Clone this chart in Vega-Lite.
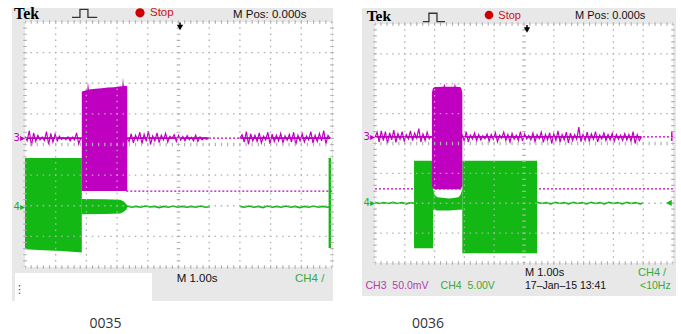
{
"$schema": "https://vega.github.io/schema/vega-lite/v6.json",
"width": 681, "height": 334,
"autosize": {"type": "fit", "contains": "padding"},
"padding": 0,
"background": "white",
"config": {"view": {"stroke": null}},
"resolve": {"scale": {"x": "independent", "y": "independent"}},
"layer": [
{
"encoding": {
 "x": {"field": "x", "type": "quantitative", "scale": {"domain": [-0.8143, 21.3681], "nice": false, "zero": false}, "axis": null},
 "y": {"field": "y", "type": "quantitative", "scale": {"domain": [-6.1878, 4.7184], "nice": false, "zero": false}, "axis": null, "stack": null}
},
"layer": [
 {"data": {"values": [{"x": -0.4235, "x2": 10.033, "y": 4.457, "y2": -5.11}]}, "mark": {"type": "rect", "color": "#e8e8e8"}, "encoding": {"x2": {"field": "x2"}, "y2": {"field": "y2"}}},
 {"data": {"values": [{"x": 0, "x2": 10, "y": 4, "y2": -4}, {"x": -0.326, "x2": 4.137, "y": -4.196, "y2": -5.11}]}, "mark": {"type": "rect", "color": "#ffffff"}, "encoding": {"x2": {"field": "x2"}, "y2": {"field": "y2"}}},
 {"data": {"values": [{"x": 0, "x2": 10, "y": 0.21}, {"x": 3.3, "x2": 10, "y": -1.52}]}, "mark": {"type": "rule", "color": "#c000c0", "strokeWidth": 1.2, "strokeDash": [2, 2]}, "encoding": {"x2": {"field": "x2"}}},
 {"data": {"values": [
   {"s": "a", "x": 0, "y": -0.44, "y2": -3.42}, {"s": "a", "x": 0.6, "y": -0.44, "y2": -3.45}, {"s": "a", "x": 1.2, "y": -0.44, "y2": -3.48}, {"s": "a", "x": 1.85, "y": -0.44, "y2": -3.53},
   {"s": "b", "x": 1.85, "y": -1.78, "y2": -2.28}, {"s": "b", "x": 2.6, "y": -1.79, "y2": -2.27}, {"s": "b", "x": 3.1, "y": -1.8, "y2": -2.25}, {"s": "b", "x": 3.22, "y": -1.86, "y2": -2.2}, {"s": "b", "x": 3.3, "y": -1.95, "y2": -2.12}, {"s": "b", "x": 3.33, "y": -2.0, "y2": -2.06}
  ]}, "mark": {"type": "area", "color": "#14b814", "orient": "vertical", "opacity": 1}, "encoding": {"y2": {"field": "y2"}, "detail": {"field": "s"}}},
 {"data": {"values": [{"x": 9.93, "y": -0.44, "y2": -3.38}]}, "mark": {"type": "rule", "color": "#14b814", "strokeWidth": 2.5}, "encoding": {"y2": {"field": "y2"}}},
 {"data": {"values": [
   {"s": "m", "x": 1.85, "y": 1.72, "y2": -1.52}, {"s": "m", "x": 1.9, "y": 1.75, "y2": -1.52}, {"s": "m", "x": 2.03, "y": 1.78, "y2": -1.52}, {"s": "m", "x": 2.05, "y": 2.05, "y2": -1.52}, {"s": "m", "x": 2.08, "y": 1.8, "y2": -1.52}, {"s": "m", "x": 2.3, "y": 1.82, "y2": -1.52}, {"s": "m", "x": 2.5, "y": 1.84, "y2": -1.52}, {"s": "m", "x": 2.7, "y": 1.86, "y2": -1.52}, {"s": "m", "x": 2.9, "y": 1.87, "y2": -1.52}, {"s": "m", "x": 3.05, "y": 1.89, "y2": -1.52}, {"s": "m", "x": 3.17, "y": 1.9, "y2": -1.52}, {"s": "m", "x": 3.19, "y": 2.18, "y2": -1.52}, {"s": "m", "x": 3.22, "y": 1.91, "y2": -1.52}, {"s": "m", "x": 3.32, "y": 1.91, "y2": -1.52}, {"s": "m", "x": 3.33, "y": 1.85, "y2": -1.52}
  ]}, "mark": {"type": "area", "color": "#c000c0", "orient": "vertical", "opacity": 1}, "encoding": {"y2": {"field": "y2"}, "detail": {"field": "s"}}},
 {"data": {"values": [{"x": 0, "x2": 1.84, "y": 0.21}, {"x": 3.32, "x2": 6.0, "y": 0.21}, {"x": 7.0, "x2": 9.94, "y": 0.21}]}, "mark": {"type": "rule", "color": "#c000c0", "strokeWidth": 1.8}, "encoding": {"x2": {"field": "x2"}}},
 {"data": {"values": [
   {"s":"a","x":0,"y":0.26},{"s":"a","x":0.07,"y":0.12},{"s":"a","x":0.14,"y":0.45},{"s":"a","x":0.21,"y":-0.05},{"s":"a","x":0.28,"y":0.38},{"s":"a","x":0.35,"y":0.1},{"s":"a","x":0.42,"y":0.3},{"s":"a","x":0.49,"y":0.15},{"s":"a","x":0.56,"y":0.24},{"s":"a","x":0.63,"y":0.13},{"s":"a","x":0.7,"y":0.42},{"s":"a","x":0.77,"y":0.0},{"s":"a","x":0.84,"y":0.36},{"s":"a","x":0.91,"y":0.08},{"s":"a","x":0.98,"y":0.34},{"s":"a","x":1.05,"y":0.12},{"s":"a","x":1.12,"y":0.27},{"s":"a","x":1.19,"y":0.17},{"s":"a","x":1.26,"y":0.23},{"s":"a","x":1.33,"y":0.16},{"s":"a","x":1.4,"y":0.25},{"s":"a","x":1.47,"y":0.12},{"s":"a","x":1.54,"y":0.24},{"s":"a","x":1.61,"y":0.15},{"s":"a","x":1.68,"y":0.38},{"s":"a","x":1.75,"y":0.02},{"s":"a","x":1.82,"y":0.22},
   {"s":"b","x":3.32,"y":0.22},{"s":"b","x":3.39,"y":0.1},{"s":"b","x":3.46,"y":0.35},{"s":"b","x":3.53,"y":0.05},{"s":"b","x":3.6,"y":0.3},{"s":"b","x":3.67,"y":0.14},{"s":"b","x":3.74,"y":0.4},{"s":"b","x":3.81,"y":0.02},{"s":"b","x":3.88,"y":0.33},{"s":"b","x":3.95,"y":0.1},{"s":"b","x":4.02,"y":0.44},{"s":"b","x":4.09,"y":0.0},{"s":"b","x":4.16,"y":0.28},{"s":"b","x":4.23,"y":0.12},{"s":"b","x":4.3,"y":0.38},{"s":"b","x":4.37,"y":0.06},{"s":"b","x":4.44,"y":0.3},{"s":"b","x":4.51,"y":0.15},{"s":"b","x":4.58,"y":0.36},{"s":"b","x":4.65,"y":0.08},{"s":"b","x":4.72,"y":0.27},{"s":"b","x":4.79,"y":0.2},{"s":"b","x":4.86,"y":0.32},{"s":"b","x":4.93,"y":0.1},{"s":"b","x":5.0,"y":0.3},{"s":"b","x":5.07,"y":0.14},{"s":"b","x":5.14,"y":0.26},{"s":"b","x":5.21,"y":0.12},{"s":"b","x":5.28,"y":0.29},{"s":"b","x":5.35,"y":0.16},{"s":"b","x":5.42,"y":0.24},{"s":"b","x":5.49,"y":0.12},{"s":"b","x":5.56,"y":0.3},{"s":"b","x":5.63,"y":0.1},{"s":"b","x":5.7,"y":0.25},{"s":"b","x":5.77,"y":0.15},{"s":"b","x":5.84,"y":0.22},{"s":"b","x":5.91,"y":0.17},{"s":"b","x":5.98,"y":0.2},
   {"s":"c","x":7.0,"y":0.2},{"s":"c","x":7.07,"y":0.32},{"s":"c","x":7.14,"y":0.08},{"s":"c","x":7.21,"y":0.42},{"s":"c","x":7.28,"y":0.0},{"s":"c","x":7.35,"y":0.35},{"s":"c","x":7.42,"y":0.12},{"s":"c","x":7.49,"y":0.3},{"s":"c","x":7.56,"y":0.1},{"s":"c","x":7.63,"y":0.38},{"s":"c","x":7.7,"y":0.05},{"s":"c","x":7.77,"y":0.27},{"s":"c","x":7.84,"y":0.15},{"s":"c","x":7.91,"y":0.4},{"s":"c","x":7.98,"y":0.02},{"s":"c","x":8.05,"y":0.34},{"s":"c","x":8.12,"y":0.1},{"s":"c","x":8.19,"y":0.3},{"s":"c","x":8.26,"y":0.12},{"s":"c","x":8.33,"y":0.36},{"s":"c","x":8.4,"y":0.06},{"s":"c","x":8.47,"y":0.28},{"s":"c","x":8.54,"y":0.14},{"s":"c","x":8.61,"y":0.33},{"s":"c","x":8.68,"y":0.08},{"s":"c","x":8.75,"y":0.4},{"s":"c","x":8.82,"y":0.0},{"s":"c","x":8.89,"y":0.3},{"s":"c","x":8.96,"y":0.12},{"s":"c","x":9.03,"y":0.35},{"s":"c","x":9.1,"y":0.08},{"s":"c","x":9.17,"y":0.28},{"s":"c","x":9.24,"y":0.15},{"s":"c","x":9.31,"y":0.42},{"s":"c","x":9.38,"y":0.05},{"s":"c","x":9.45,"y":0.3},{"s":"c","x":9.52,"y":0.1},{"s":"c","x":9.59,"y":0.36},{"s":"c","x":9.66,"y":0.12},{"s":"c","x":9.73,"y":0.45},{"s":"c","x":9.8,"y":0.02},{"s":"c","x":9.87,"y":0.3},{"s":"c","x":9.94,"y":0.2}
  ]}, "mark": {"type": "line", "color": "#c000c0", "strokeWidth": 1.2}, "encoding": {"detail": {"field": "s"}}},
 {"data": {"values": [
   {"s":"b","x":3.32,"y":-2.01},{"s":"b","x":3.47,"y":-2.05},{"s":"b","x":3.62,"y":-2.02},{"s":"b","x":3.77,"y":-2.05},{"s":"b","x":3.92,"y":-2.01},{"s":"b","x":4.07,"y":-2.04},{"s":"b","x":4.22,"y":-2.02},{"s":"b","x":4.37,"y":-2.06},{"s":"b","x":4.52,"y":-2.02},{"s":"b","x":4.67,"y":-2.05},{"s":"b","x":4.82,"y":-2.01},{"s":"b","x":4.97,"y":-2.05},{"s":"b","x":5.12,"y":-2.02},{"s":"b","x":5.27,"y":-2.05},{"s":"b","x":5.42,"y":-2.02},{"s":"b","x":5.57,"y":-2.05},{"s":"b","x":5.72,"y":-2.01},{"s":"b","x":5.87,"y":-2.05},{"s":"b","x":6.02,"y":-2.03},
   {"s":"c","x":7.0,"y":-2.02},{"s":"c","x":7.15,"y":-2.05},{"s":"c","x":7.3,"y":-2.01},{"s":"c","x":7.45,"y":-2.05},{"s":"c","x":7.6,"y":-2.02},{"s":"c","x":7.75,"y":-2.06},{"s":"c","x":7.9,"y":-2.01},{"s":"c","x":8.05,"y":-2.05},{"s":"c","x":8.2,"y":-2.02},{"s":"c","x":8.35,"y":-2.05},{"s":"c","x":8.5,"y":-2.01},{"s":"c","x":8.65,"y":-2.05},{"s":"c","x":8.8,"y":-2.02},{"s":"c","x":8.95,"y":-2.06},{"s":"c","x":9.1,"y":-2.02},{"s":"c","x":9.25,"y":-2.05},{"s":"c","x":9.4,"y":-2.01},{"s":"c","x":9.55,"y":-2.05},{"s":"c","x":9.7,"y":-2.02},{"s":"c","x":9.85,"y":-2.05},{"s":"c","x":9.93,"y":-2.03}
  ]}, "mark": {"type": "line", "color": "#14b814", "strokeWidth": 1.6}, "encoding": {"detail": {"field": "s"}}},
 {"data": {"values": [{"x":1,"y":-4,"y2":4},{"x":2,"y":-4,"y2":4},{"x":3,"y":-4,"y2":4},{"x":4,"y":-4,"y2":4},{"x":6,"y":-4,"y2":4},{"x":7,"y":-4,"y2":4},{"x":8,"y":-4,"y2":4},{"x":9,"y":-4,"y2":4}]}, "mark": {"type": "rule", "color": "#b0b0b0", "strokeWidth": 1.3, "strokeDash": [1.5, 4.625], "strokeDashOffset": 0.75}, "encoding": {"y2": {"field": "y2"}}},
 {"data": {"values": [{"y":-3,"x":0,"x2":10},{"y":-2,"x":0,"x2":10},{"y":-1,"x":0,"x2":10},{"y":1,"x":0,"x2":10},{"y":2,"x":0,"x2":10},{"y":3,"x":0,"x2":10}]}, "mark": {"type": "rule", "color": "#b0b0b0", "strokeWidth": 1.3, "strokeDash": [1.5, 4.64], "strokeDashOffset": 0.75}, "encoding": {"x2": {"field": "x2"}}},
 {"data": {"values": [{"x":0,"y":-4,"y2":4},{"x":5,"y":-4,"y2":4},{"x":10,"y":-4,"y2":4}]}, "mark": {"type": "rule", "color": "#b0b0b0", "strokeWidth": 3.5, "strokeDash": [1.2, 4.925], "strokeDashOffset": 0.6}, "encoding": {"y2": {"field": "y2"}}},
 {"data": {"values": [{"y":-4,"x":0,"x2":10},{"y":0,"x":0,"x2":10},{"y":4,"x":0,"x2":10}]}, "mark": {"type": "rule", "color": "#b0b0b0", "strokeWidth": 3.5, "strokeDash": [1.2, 4.94], "strokeDashOffset": 0.6}, "encoding": {"x2": {"field": "x2"}}},
 {"data": {"values": [{"x": 0, "y": 0.21, "t": "3▸"}]}, "mark": {"type": "text", "color": "#c000c0", "align": "right", "baseline": "middle", "fontSize": 10, "font": "DejaVu Sans"}, "encoding": {"text": {"field": "t"}}},
 {"data": {"values": [{"x": 0, "y": -2.03, "t": "4▸"}]}, "mark": {"type": "text", "color": "#14b814", "align": "right", "baseline": "middle", "fontSize": 10, "font": "DejaVu Sans"}, "encoding": {"text": {"field": "t"}}},
 {"data": {"values": [{"x": -0.36, "y": 4.1, "t": "Tek"}]}, "mark": {"type": "text", "color": "#000000", "align": "left", "baseline": "alphabetic", "fontSize": 16, "fontWeight": "bold", "font": "Liberation Serif"}, "encoding": {"text": {"field": "t"}}},
 {"data": {"values": [{"x": 6.775, "y": 4.13, "t": "M Pos: 0.000s"}, {"x": 4.94, "y": -4.49, "t": "M 1.00s"}]}, "mark": {"type": "text", "color": "#111111", "align": "left", "baseline": "alphabetic", "fontSize": 11.5, "font": "Liberation Sans"}, "encoding": {"text": {"field": "t"}}},
 {"data": {"values": [{"x": 4.072, "y": 4.19, "t": "Stop"}]}, "mark": {"type": "text", "color": "#cc1111", "align": "left", "baseline": "alphabetic", "fontSize": 11.5, "font": "Liberation Sans"}, "encoding": {"text": {"field": "t"}}},
 {"data": {"values": [{"x": 3.746, "y": 4.3}]}, "mark": {"type": "point", "shape": "circle", "filled": true, "size": 85, "color": "#cc0000", "opacity": 1}},
 {"data": {"values": [{"x": 8.795, "y": -4.49, "t": "CH4 /"}]}, "mark": {"type": "text", "color": "#3aa83a", "align": "left", "baseline": "alphabetic", "fontSize": 11.5, "font": "Liberation Sans"}, "encoding": {"text": {"field": "t"}}},
 {"data": {"values": [{"i":0,"x":1.53,"y":4.15},{"i":1,"x":1.79,"y":4.15},{"i":2,"x":1.79,"y":4.41},{"i":3,"x":2.05,"y":4.41},{"i":4,"x":2.05,"y":4.15},{"i":5,"x":2.35,"y":4.15}]}, "mark": {"type": "line", "color": "#333333", "strokeWidth": 1.3}, "encoding": {"order": {"field": "i"}}},
 {"data": {"values": [{"x": 5.05, "y": 3.82}]}, "mark": {"type": "point", "shape": "triangle-down", "filled": true, "size": 40, "color": "#000000", "opacity": 1}},
 {"data": {"values": [{"x": 5.05, "y": 3.985, "y2": 3.84}]}, "mark": {"type": "rule", "color": "#000000", "strokeWidth": 1.5}, "encoding": {"y2": {"field": "y2"}}},
 {"data": {"values": [{"x": -0.36, "y": -4.75, "t": "⋮"}]}, "mark": {"type": "text", "color": "#444444", "align": "left", "baseline": "middle", "fontSize": 11, "font": "DejaVu Sans"}, "encoding": {"text": {"field": "t"}}},
 {"data": {"values": [{"x": 2.622, "y": -5.992, "t": "0035"}]}, "mark": {"type": "text", "color": "#333333", "align": "center", "baseline": "alphabetic", "fontSize": 14, "font": "Open Sans"}, "encoding": {"text": {"field": "t"}}}
]
},
{
"encoding": {
 "x": {"field": "x", "type": "quantitative", "scale": {"domain": [-12.5839, 10.2685], "nice": false, "zero": false}, "axis": null},
 "y": {"field": "y", "type": "quantitative", "scale": {"domain": [-6.3766, 4.8033], "nice": false, "zero": false}, "axis": null, "stack": null}
},
"layer": [
 {"data": {"values": [{"x": -0.436, "x2": 10.101, "y": 4.536, "y2": -5.105}]}, "mark": {"type": "rect", "color": "#e8e8e8"}, "encoding": {"x2": {"field": "x2"}, "y2": {"field": "y2"}}},
 {"data": {"values": [{"x": 0, "x2": 10, "y": 4, "y2": -4}]}, "mark": {"type": "rect", "color": "#ffffff"}, "encoding": {"x2": {"field": "x2"}, "y2": {"field": "y2"}}},
 {"data": {"values": [{"x": 0, "x2": 10, "y": 0.22}, {"x": 0, "x2": 10, "y": -1.52}]}, "mark": {"type": "rule", "color": "#c000c0", "strokeWidth": 1.2, "strokeDash": [2, 2]}, "encoding": {"x2": {"field": "x2"}}},
 {"data": {"values": [
   {"s": "a", "x": 1.31, "y": -0.58, "y2": -3.51}, {"s": "a", "x": 1.95, "y": -0.58, "y2": -3.51},
   {"s": "b", "x": 1.95, "y": -1.5, "y2": -2.23}, {"s": "b", "x": 2.0, "y": -1.72, "y2": -2.23}, {"s": "b", "x": 2.1, "y": -1.8, "y2": -2.24}, {"s": "b", "x": 2.5, "y": -1.84, "y2": -2.24}, {"s": "b", "x": 2.8, "y": -1.8, "y2": -2.22}, {"s": "b", "x": 2.88, "y": -1.7, "y2": -2.22}, {"s": "b", "x": 2.93, "y": -1.5, "y2": -2.22},
   {"s": "c", "x": 2.93, "y": -0.58, "y2": -3.67}, {"s": "c", "x": 4.0, "y": -0.58, "y2": -3.67}, {"s": "c", "x": 5.44, "y": -0.58, "y2": -3.67}
  ]}, "mark": {"type": "area", "color": "#14b814", "orient": "vertical", "opacity": 1}, "encoding": {"y2": {"field": "y2"}, "detail": {"field": "s"}}},
 {"data": {"values": [
   {"s":"m","x":1.91,"y":1.7,"y2":-1.4},{"s":"m","x":1.94,"y":1.84,"y2":-1.5},{"s":"m","x":2.0,"y":1.89,"y2":-1.53},{"s":"m","x":2.3,"y":1.9,"y2":-1.53},{"s":"m","x":2.33,"y":2.0,"y2":-1.53},{"s":"m","x":2.36,"y":1.9,"y2":-1.53},{"s":"m","x":2.66,"y":1.9,"y2":-1.53},{"s":"m","x":2.68,"y":2.02,"y2":-1.53},{"s":"m","x":2.71,"y":1.9,"y2":-1.53},{"s":"m","x":2.86,"y":1.89,"y2":-1.53},{"s":"m","x":2.9,"y":1.84,"y2":-1.5},{"s":"m","x":2.93,"y":1.7,"y2":-1.4}
  ]}, "mark": {"type": "area", "color": "#c000c0", "orient": "vertical", "opacity": 1}, "encoding": {"y2": {"field": "y2"}, "detail": {"field": "s"}}},
 {"data": {"values": [{"x": 0, "x2": 1.91, "y": 0.22}, {"x": 2.92, "x2": 8.94, "y": 0.22}]}, "mark": {"type": "rule", "color": "#c000c0", "strokeWidth": 1.8}, "encoding": {"x2": {"field": "x2"}}},
 {"data": {"values": [
   {"s":"a","x":0,"y":0.2},{"s":"a","x":0.07,"y":0.38},{"s":"a","x":0.14,"y":0.05},{"s":"a","x":0.21,"y":0.42},{"s":"a","x":0.28,"y":0.1},{"s":"a","x":0.35,"y":0.4},{"s":"a","x":0.42,"y":0.0},{"s":"a","x":0.49,"y":0.36},{"s":"a","x":0.56,"y":0.12},{"s":"a","x":0.63,"y":0.45},{"s":"a","x":0.7,"y":0.04},{"s":"a","x":0.77,"y":0.33},{"s":"a","x":0.84,"y":0.14},{"s":"a","x":0.91,"y":0.4},{"s":"a","x":0.98,"y":0.08},{"s":"a","x":1.05,"y":0.3},{"s":"a","x":1.12,"y":0.15},{"s":"a","x":1.19,"y":0.42},{"s":"a","x":1.26,"y":0.1},{"s":"a","x":1.33,"y":0.35},{"s":"a","x":1.4,"y":0.18},{"s":"a","x":1.47,"y":0.5},{"s":"a","x":1.54,"y":0.05},{"s":"a","x":1.61,"y":0.32},{"s":"a","x":1.68,"y":0.1},{"s":"a","x":1.75,"y":0.38},{"s":"a","x":1.82,"y":0.15},{"s":"a","x":1.89,"y":0.25},
   {"s":"b","x":2.92,"y":0.3},{"s":"b","x":2.99,"y":0.1},{"s":"b","x":3.06,"y":0.4},{"s":"b","x":3.13,"y":0.05},{"s":"b","x":3.2,"y":0.28},{"s":"b","x":3.27,"y":0.15},{"s":"b","x":3.34,"y":0.35},{"s":"b","x":3.41,"y":0.1},{"s":"b","x":3.48,"y":0.3},{"s":"b","x":3.55,"y":0.12},
   {"s":"b","x":3.62,"y":0.26},{"s":"b","x":3.69,"y":0.16},{"s":"b","x":3.76,"y":0.32},{"s":"b","x":3.83,"y":0.08},{"s":"b","x":3.9,"y":0.3},{"s":"b","x":3.97,"y":0.14},{"s":"b","x":4.04,"y":0.36},{"s":"b","x":4.11,"y":0.06},{"s":"b","x":4.18,"y":0.28},{"s":"b","x":4.25,"y":0.18},
   {"s":"b","x":4.32,"y":0.38},{"s":"b","x":4.39,"y":0.1},{"s":"b","x":4.46,"y":0.3},{"s":"b","x":4.53,"y":0.05},{"s":"b","x":4.6,"y":0.34},{"s":"b","x":4.67,"y":0.14},{"s":"b","x":4.74,"y":0.28},{"s":"b","x":4.81,"y":0.1},{"s":"b","x":4.88,"y":0.4},{"s":"b","x":4.95,"y":0.08},
   {"s":"b","x":5.02,"y":0.32},{"s":"b","x":5.09,"y":0.15},{"s":"b","x":5.16,"y":0.27},{"s":"b","x":5.23,"y":0.12},{"s":"b","x":5.3,"y":0.35},{"s":"b","x":5.37,"y":0.06},{"s":"b","x":5.44,"y":0.3},{"s":"b","x":5.51,"y":0.16},{"s":"b","x":5.58,"y":0.38},{"s":"b","x":5.65,"y":0.04},
   {"s":"b","x":5.72,"y":0.3},{"s":"b","x":5.79,"y":0.12},{"s":"b","x":5.86,"y":0.36},{"s":"b","x":5.93,"y":0.0},{"s":"b","x":6.0,"y":0.32},{"s":"b","x":6.07,"y":0.1},{"s":"b","x":6.14,"y":0.42},{"s":"b","x":6.21,"y":0.05},{"s":"b","x":6.28,"y":0.3},{"s":"b","x":6.35,"y":0.12},
   {"s":"b","x":6.42,"y":0.38},{"s":"b","x":6.49,"y":0.02},{"s":"b","x":6.56,"y":0.35},{"s":"b","x":6.63,"y":0.1},{"s":"b","x":6.7,"y":0.3},{"s":"b","x":6.77,"y":0.14},{"s":"b","x":6.84,"y":0.55},{"s":"b","x":6.91,"y":0.06},{"s":"b","x":6.98,"y":0.3},{"s":"b","x":7.05,"y":0.1},
   {"s":"b","x":7.12,"y":0.38},{"s":"b","x":7.19,"y":0.08},{"s":"b","x":7.26,"y":0.32},{"s":"b","x":7.33,"y":0.14},{"s":"b","x":7.4,"y":0.4},{"s":"b","x":7.47,"y":0.05},{"s":"b","x":7.54,"y":0.28},{"s":"b","x":7.61,"y":0.15},{"s":"b","x":7.68,"y":0.35},{"s":"b","x":7.75,"y":0.1},
   {"s":"b","x":7.82,"y":0.3},{"s":"b","x":7.89,"y":0.12},{"s":"b","x":7.96,"y":0.34},{"s":"b","x":8.03,"y":0.08},{"s":"b","x":8.1,"y":0.3},{"s":"b","x":8.17,"y":0.14},{"s":"b","x":8.24,"y":0.28},{"s":"b","x":8.31,"y":0.1},{"s":"b","x":8.38,"y":0.33},{"s":"b","x":8.45,"y":0.12},
   {"s":"b","x":8.52,"y":0.3},{"s":"b","x":8.59,"y":0.08},{"s":"b","x":8.66,"y":0.4},{"s":"b","x":8.73,"y":0.0},{"s":"b","x":8.8,"y":0.3},{"s":"b","x":8.87,"y":0.1},{"s":"b","x":8.94,"y":0.22}
  ]}, "mark": {"type": "line", "color": "#c000c0", "strokeWidth": 1.2}, "encoding": {"detail": {"field": "s"}}},
 {"data": {"values": [{"x": 9.96, "y": 0.08, "y2": 0.42}]}, "mark": {"type": "rule", "color": "#c000c0", "strokeWidth": 1.5}, "encoding": {"y2": {"field": "y2"}}},
 {"data": {"values": [
   {"s":"a","x":0,"y":-1.97},{"s":"a","x":0.15,"y":-2.01},{"s":"a","x":0.3,"y":-1.98},{"s":"a","x":0.45,"y":-2.01},{"s":"a","x":0.6,"y":-1.97},{"s":"a","x":0.75,"y":-2.01},{"s":"a","x":0.9,"y":-1.98},{"s":"a","x":1.05,"y":-2.02},{"s":"a","x":1.2,"y":-1.98},{"s":"a","x":1.31,"y":-2.0},
   {"s":"b","x":5.44,"y":-1.97},{"s":"b","x":5.6,"y":-2.01},{"s":"b","x":5.75,"y":-1.98},{"s":"b","x":5.9,"y":-2.02},{"s":"b","x":6.05,"y":-1.97},{"s":"b","x":6.2,"y":-2.01},{"s":"b","x":6.35,"y":-1.98},{"s":"b","x":6.5,"y":-2.02},{"s":"b","x":6.65,"y":-1.97},{"s":"b","x":6.8,"y":-2.01},{"s":"b","x":6.95,"y":-1.98},{"s":"b","x":7.1,"y":-2.02},{"s":"b","x":7.25,"y":-1.97},{"s":"b","x":7.4,"y":-2.01},{"s":"b","x":7.55,"y":-1.98},{"s":"b","x":7.7,"y":-2.02},{"s":"b","x":7.85,"y":-1.97},{"s":"b","x":8.0,"y":-2.01},{"s":"b","x":8.15,"y":-1.98},{"s":"b","x":8.3,"y":-2.02},{"s":"b","x":8.45,"y":-1.97},{"s":"b","x":8.6,"y":-2.01},{"s":"b","x":8.75,"y":-1.98},{"s":"b","x":8.9,"y":-2.02},{"s":"b","x":9.0,"y":-1.99}
  ]}, "mark": {"type": "line", "color": "#14b814", "strokeWidth": 1.6}, "encoding": {"detail": {"field": "s"}}},
 {"data": {"values": [{"x":1,"y":-4,"y2":4},{"x":2,"y":-4,"y2":4},{"x":3,"y":-4,"y2":4},{"x":4,"y":-4,"y2":4},{"x":6,"y":-4,"y2":4},{"x":7,"y":-4,"y2":4},{"x":8,"y":-4,"y2":4},{"x":9,"y":-4,"y2":4}]}, "mark": {"type": "rule", "color": "#b0b0b0", "strokeWidth": 1.3, "strokeDash": [1.5, 4.475], "strokeDashOffset": 0.75}, "encoding": {"y2": {"field": "y2"}}},
 {"data": {"values": [{"y":-3,"x":0,"x2":10},{"y":-2,"x":0,"x2":10},{"y":-1,"x":0,"x2":10},{"y":1,"x":0,"x2":10},{"y":2,"x":0,"x2":10},{"y":3,"x":0,"x2":10}]}, "mark": {"type": "rule", "color": "#b0b0b0", "strokeWidth": 1.3, "strokeDash": [1.5, 4.46], "strokeDashOffset": 0.75}, "encoding": {"x2": {"field": "x2"}}},
 {"data": {"values": [{"x":0,"y":-4,"y2":4},{"x":5,"y":-4,"y2":4},{"x":10,"y":-4,"y2":4}]}, "mark": {"type": "rule", "color": "#b0b0b0", "strokeWidth": 3.5, "strokeDash": [1.2, 4.775], "strokeDashOffset": 0.6}, "encoding": {"y2": {"field": "y2"}}},
 {"data": {"values": [{"y":-4,"x":0,"x2":10},{"y":0,"x":0,"x2":10},{"y":4,"x":0,"x2":10}]}, "mark": {"type": "rule", "color": "#b0b0b0", "strokeWidth": 3.5, "strokeDash": [1.2, 4.76], "strokeDashOffset": 0.6}, "encoding": {"x2": {"field": "x2"}}},
 {"data": {"values": [{"x": 0, "y": 0.22, "t": "3▸"}]}, "mark": {"type": "text", "color": "#c000c0", "align": "right", "baseline": "middle", "fontSize": 10, "font": "DejaVu Sans"}, "encoding": {"text": {"field": "t"}}},
 {"data": {"values": [{"x": 0, "y": -1.99, "t": "4▸"}]}, "mark": {"type": "text", "color": "#14b814", "align": "right", "baseline": "middle", "fontSize": 10, "font": "DejaVu Sans"}, "encoding": {"text": {"field": "t"}}},
 {"data": {"values": [{"x": 9.866, "y": -1.99}]}, "mark": {"type": "point", "shape": "triangle-left", "filled": true, "size": 40, "color": "#14b814", "opacity": 1}},
 {"data": {"values": [{"x": -0.279, "y": 4.09, "t": "Tek"}]}, "mark": {"type": "text", "color": "#000000", "align": "left", "baseline": "alphabetic", "fontSize": 15.5, "fontWeight": "bold", "font": "Liberation Serif"}, "encoding": {"text": {"field": "t"}}},
 {"data": {"values": [{"x": 6.711, "y": 4.167, "t": "M Pos: 0.000s"}, {"x": 5.034, "y": -4.435, "t": "M 1.00s"}]}, "mark": {"type": "text", "color": "#111111", "align": "left", "baseline": "alphabetic", "fontSize": 11, "font": "Liberation Sans"}, "encoding": {"text": {"field": "t"}}},
 {"data": {"values": [{"x": 5.034, "y": -4.87, "t": "17–Jan–15 13:41"}]}, "mark": {"type": "text", "color": "#111111", "align": "left", "baseline": "alphabetic", "fontSize": 10.5, "font": "Liberation Sans"}, "encoding": {"text": {"field": "t"}}},
 {"data": {"values": [{"x": 4.138, "y": 4.157, "t": "Stop"}]}, "mark": {"type": "text", "color": "#cc1111", "align": "left", "baseline": "alphabetic", "fontSize": 11, "font": "Liberation Sans"}, "encoding": {"text": {"field": "t"}}},
 {"data": {"values": [{"x": 3.826, "y": 4.3}]}, "mark": {"type": "point", "shape": "circle", "filled": true, "size": 75, "color": "#cc0000", "opacity": 1}},
 {"data": {"values": [{"x": 8.826, "y": -4.435, "t": "CH4 /"}]}, "mark": {"type": "text", "color": "#3aa83a", "align": "left", "baseline": "alphabetic", "fontSize": 11, "font": "Liberation Sans"}, "encoding": {"text": {"field": "t"}}},
 {"data": {"values": [{"x": 2.2, "y": -4.87, "t": "CH4\u00a0\u00a05.00V"}, {"x": 8.893, "y": -4.87, "t": "<10Hz"}]}, "mark": {"type": "text", "color": "#3aa83a", "align": "left", "baseline": "alphabetic", "fontSize": 10.5, "font": "Liberation Sans"}, "encoding": {"text": {"field": "t"}}},
 {"data": {"values": [{"x": -0.32, "y": -4.87, "t": "CH3\u00a0\u00a050.0mV"}]}, "mark": {"type": "text", "color": "#b03cb0", "align": "left", "baseline": "alphabetic", "fontSize": 10.5, "font": "Liberation Sans"}, "encoding": {"text": {"field": "t"}}},
 {"data": {"values": [{"i":0,"x":1.61,"y":4.08},{"i":1,"x":1.81,"y":4.08},{"i":2,"x":1.81,"y":4.36},{"i":3,"x":2.08,"y":4.36},{"i":4,"x":2.08,"y":4.08},{"i":5,"x":2.35,"y":4.08}]}, "mark": {"type": "line", "color": "#333333", "strokeWidth": 1.3}, "encoding": {"order": {"field": "i"}}},
 {"data": {"values": [{"x": 5.1, "y": 3.8}]}, "mark": {"type": "point", "shape": "triangle-down", "filled": true, "size": 40, "color": "#000000", "opacity": 1}},
 {"data": {"values": [{"x": 5.1, "y": 3.966, "y2": 3.82}]}, "mark": {"type": "rule", "color": "#000000", "strokeWidth": 1.5}, "encoding": {"y2": {"field": "y2"}}},
 {"data": {"values": [{"x": 1.779, "y": -6.176, "t": "0036"}]}, "mark": {"type": "text", "color": "#333333", "align": "center", "baseline": "alphabetic", "fontSize": 14, "font": "Open Sans"}, "encoding": {"text": {"field": "t"}}}
]
}
]
}
